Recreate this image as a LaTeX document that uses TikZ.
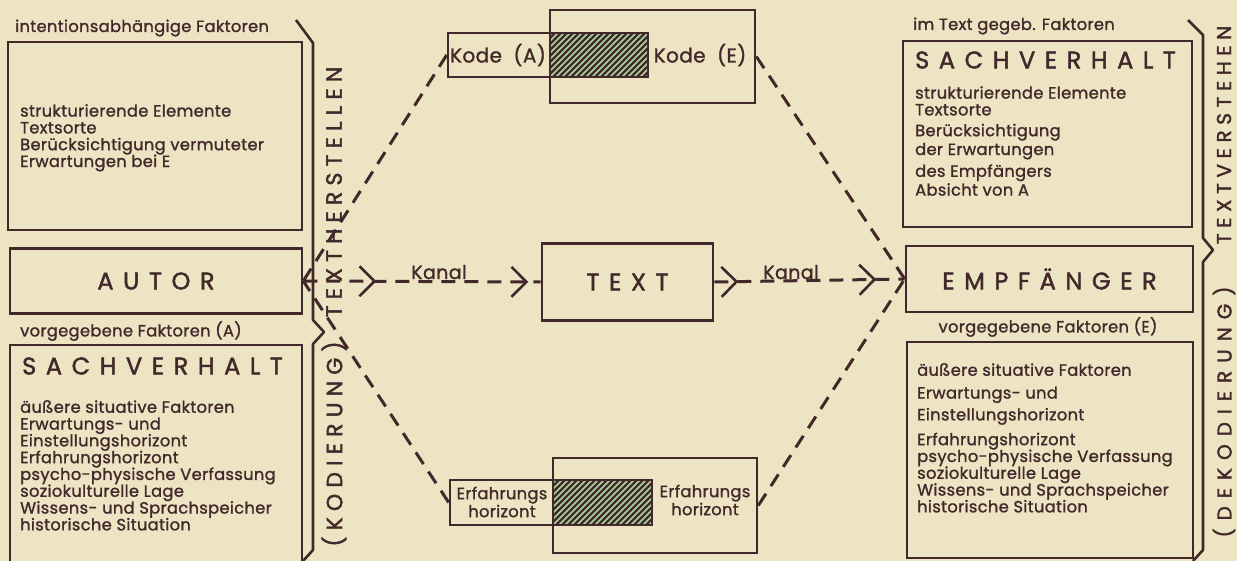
\documentclass[tikz,border=0pt]{standalone}
\usepackage{fontspec}
\setmainfont{Poppins}[LetterSpace=2,FakeBold=1.3]
\newfontfamily\widefont{Poppins}[LetterSpace=40,FakeBold=1.8]
\newfontfamily\sidefont{Poppins}[LetterSpace=28,FakeBold=1.8]
\newfontfamily\sidewidefont{Poppins}[LetterSpace=40,FakeBold=1.8]
\usetikzlibrary{arrows.meta,decorations.markings}
\definecolor{paper}{RGB}{237,228,196}
\definecolor{ink}{RGB}{66,40,42}
\definecolor{hatchgreen}{RGB}{172,214,160}
\setlength{\lineskiplimit}{-20pt}

\begin{document}
\begin{tikzpicture}[x=1pt,y=-1pt,
  box/.style={draw=ink,line width=2.6pt,inner sep=0pt},
  hatched/.style={fill=ink,inner sep=0pt,path picture={
    \foreach \s in {0,6,...,180}{
      \draw[hatchgreen,line width=1.7pt]
        ([xshift=\s pt-60pt]path picture bounding box.south west) -- ++(60pt,60pt);}}},
  conn/.style={draw=ink,line width=3pt,dash pattern=on 14pt off 9pt},
  barb/.tip={Straight Barb[length=15pt,width=30pt,line width=2.6pt]},
  chan/.style 2 args={conn,postaction={decorate,decoration={markings,
    mark=at position #1 with {\arrow{barb}},
    mark=at position #2 with {\arrow{barb}}}}},
  body/.style={font=\fontsize{16.3}{16.8}\selectfont,text=ink,align=left,
    inner sep=0pt,anchor=north west},
  note/.style={font=\fontsize{16.3}{18}\selectfont,text=ink,inner sep=0pt},
  code/.style={font=\fontsize{20}{22}\selectfont,text=ink,inner sep=0pt},
  head/.style={font=\widefont\fontsize{24}{26}\selectfont,text=ink},
  side/.style={font=\sidefont\fontsize{#1}{#1}\selectfont,text=ink,rotate=90,inner sep=0pt},
  brace/.style={draw=ink,line width=2.6pt,line join=round},
]
\useasboundingbox (0,0) rectangle (1237,561);
\fill[paper] (0,0) rectangle (1237,561);
\clip (0,0) rectangle (1237,561);

% sender side
\node[note,anchor=west] (intent) at (15,28) {intentionsabhängige Faktoren};
\node[box,minimum width=294pt,minimum height=188pt] (factA) at (155,136) {};
\node[body] (factAtext) at (20,104)
  {strukturierende Elemente\\Textsorte\\Berücksichtigung vermuteter\\Erwartungen bei E};
\node[box,head,minimum width=292pt,minimum height=65pt] (autor) at (156,281) {AUTOR};
\node[note,anchor=west] (givenA) at (20,331) {vorgegebene Faktoren (A)};
\node[box,minimum width=292pt,minimum height=230pt] (sachA) at (156,460) {};
\node[head,anchor=west,inner sep=0pt] (sachAhead) at (22,366) {SACHVERHALT};
\node[body] (sachAtext) at (20,400)
  {äußere situative Faktoren\\Erwartungs- und\\Einstellungshorizont\\Erfahrungshorizont\\
   psycho-physische Verfassung\\soziokulturelle Lage\\Wissens- und Sprachspeicher\\
   historische Situation};
\draw[brace] (296,20) -- (313,43) -- (313,320) -- (324,332) -- (313,344) -- (313,550) -- (303,561);
\node[side=22] (herstellen) at (334,192) {TEXTHERSTELLEN};
\node[side=22] (kodierung) at (334,444) {(KODIERUNG)};

% shared code and experience
\node[hatched,minimum width=98pt,minimum height=44pt] (kodeShared) at (599,55) {};
\node[box,minimum width=200pt,minimum height=44pt] (kodeA) at (548,55) {};
\node[box,minimum width=205pt,minimum height=93pt] (kodeE) at (652.5,56.5) {};
\node[code] (kodeAlabel) at (498,55) {Kode\ \ (A)};
\node[code] (kodeElabel) at (700,55) {Kode\ \ (E)};
\node[hatched,minimum width=99pt,minimum height=45pt] (erfShared) at (602.5,502.5) {};
\node[box,minimum width=202pt,minimum height=45pt] (erfA) at (551,502.5) {};
\node[box,minimum width=204pt,minimum height=95pt] (erfE) at (655,505.5) {};
\node[note,align=center] (erfAlabel) at (502,502) {Erfahrungs\\horizont};
\node[note,align=center] (erfElabel) at (705,500) {Erfahrungs\\horizont};

\node[box,head,minimum width=171pt,minimum height=77pt] (text) at (627.5,282) {TEXT};

% receiver side
\node[note,anchor=west] (intext) at (913,26) {im Text gegeb. Faktoren};
\node[box,minimum width=289pt,minimum height=186pt] (factE) at (1047.5,134) {};
\node[head,anchor=west,inner sep=0pt] (sachEhead) at (915,60) {SACHVERHALT};
\node[body] (factEtext) at (915,86)
  {strukturierende Elemente\\Textsorte\\[4pt]Berücksichtigung\\[2pt]der Erwartungen\\[5pt]
   des Empfängers\\[2pt]Absicht von A};
\node[box,head,minimum width=287pt,minimum height=66pt] (empf) at (1049.5,279) {EMPFÄNGER};
\node[note] (givenE) at (1048,327) {vorgegebene Faktoren (E)};
\node[box,minimum width=286pt,minimum height=216pt] (sachE) at (1050,450) {};
\node[body] (sachEtext) at (917,363)
  {äußere situative Faktoren\\[6pt]Erwartungs- und\\[5pt]Einstellungshorizont\\[8pt]
   Erfahrungshorizont\\psycho-physische Verfassung\\soziokulturelle Lage\\
   Wissens- und Sprachspeicher\\historische Situation};
\draw[brace] (1188,20) -- (1203,35) -- (1203,238) -- (1213,250) -- (1203,262) -- (1203,550) -- (1193,561);
\node[side=20] (verstehen) at (1224,135) {TEXTVERSTEHEN};
\node[side=20,font=\sidewidefont\fontsize{20}{20}\selectfont] (dekodierung) at (1224,412) {(DEKODIERUNG)};

% channels
\draw[conn] (kodeA.west) -- (autor.east);
\draw[conn] (erfA.west) -- (autor.east);
\draw[conn] (kodeE.east) -- (empf.west);
\draw[conn] (erfE.east) -- (empf.west);
\draw[chan={73pt}{225pt}] (autor.east) -- (text.west);
\draw[chan={24pt}{162pt}] (text.east) -- (empf.west);
\node[note,anchor=base,font=\fontsize{19}{20}\selectfont] (kanalA) at (439,279) {Kanal};
\node[note,anchor=base,font=\fontsize{19}{20}\selectfont] (kanalE) at (791,279) {Kanal};
\end{tikzpicture}
\end{document}
